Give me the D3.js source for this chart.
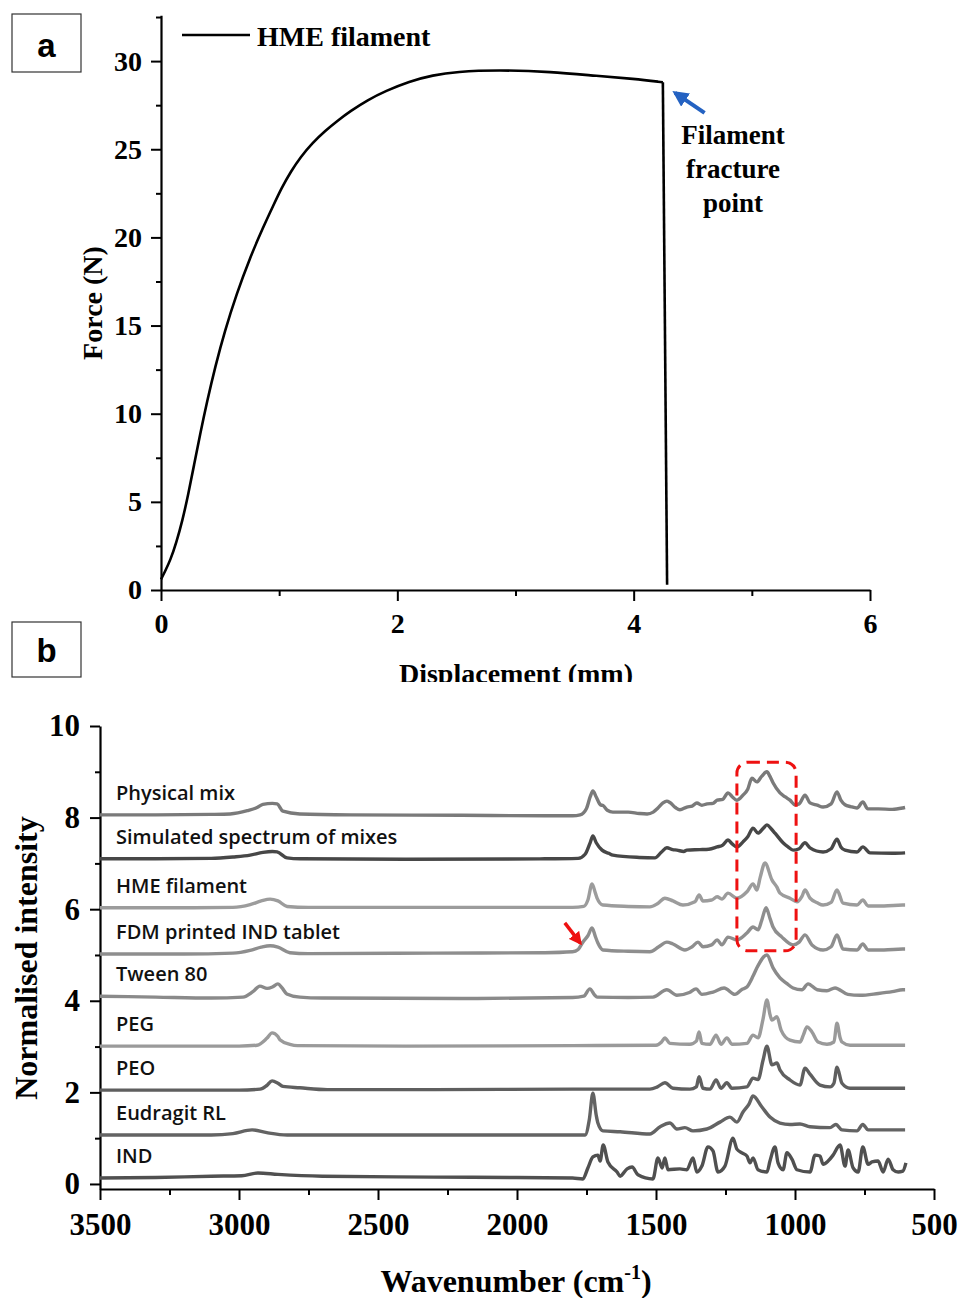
<!DOCTYPE html>
<html>
<head>
<meta charset="utf-8">
<script src="https://cdn.jsdelivr.net/npm/d3@7"></script>
<style>
  body { margin: 0; background: #fff; }
  svg { display: block; }
</style>
</head>
<body>
<svg id="chart" width="959" height="1298"></svg>
<script>
// ---- panel a: tensile test of the HME filament
const displacement = [0, 0.03, 0.08, 0.13, 0.18, 0.23, 0.28, 0.33, 0.39, 0.46, 0.54, 0.64, 0.75, 0.866, 0.95, 1.02, 1.1, 1.18, 1.28, 1.39, 1.5, 1.6, 1.75, 1.9, 2.1, 2.3, 2.5, 2.85, 3.3, 3.7, 4.0, 4.247, 4.283]
const force = [0.6, 1.0, 1.7, 2.7, 3.9, 5.4, 7.1, 8.8, 10.7, 12.7, 14.7, 16.8, 18.8, 20.6, 21.8, 22.8, 23.75, 24.55, 25.35, 26.05, 26.65, 27.15, 27.8, 28.3, 28.85, 29.2, 29.4, 29.5, 29.4, 29.15, 29.0, 28.8, 0.3]
const forceTicks = [0, 5, 10, 15, 20, 25, 30]
const forceMinor = [2.5, 7.5, 12.5, 17.5, 22.5, 27.5, 32.5]
const dispTicks = [0, 2, 4, 6]
const dispMinor = [1, 3, 5]

// ---- panel b: ATR-FTIR spectra, [wavenumber, normalised intensity]
const physicalMix = [[3500,8.06],[3300,8.06],[3100,8.07],[3032,8.08],[2970,8.15],[2935,8.22],[2914,8.29],[2880,8.31],[2863,8.30],[2842,8.14],[2781,8.08],[2600,8.06],[2200,8.05],[1900,8.04],[1800,8.04],[1773,8.06],[1750,8.2],[1737,8.45],[1727,8.58],[1715,8.45],[1700,8.28],[1690,8.26],[1675,8.16],[1655,8.12],[1600,8.12],[1560,8.09],[1532,8.08],[1510,8.12],[1493,8.21],[1475,8.32],[1461,8.36],[1450,8.33],[1430,8.22],[1414,8.17],[1389,8.23],[1370,8.25],[1353,8.32],[1335,8.27],[1316,8.30],[1295,8.31],[1280,8.38],[1260,8.40],[1241,8.54],[1225,8.45],[1209,8.38],[1187,8.49],[1170,8.62],[1155,8.86],[1137,8.78],[1120,8.90],[1101,9.0],[1090,8.90],[1079,8.76],[1054,8.54],[1035,8.45],[1018,8.38],[1000,8.28],[985,8.30],[964,8.49],[946,8.32],[920,8.27],[899,8.23],[870,8.30],[849,8.56],[835,8.38],[820,8.28],[800,8.24],[777,8.21],[756,8.34],[738,8.19],[700,8.19],[650,8.18],[612,8.21],[604,8.22]]
const simulated = [[3500,7.10],[3300,7.10],[3100,7.11],[3022,7.14],[2960,7.18],[2914,7.24],[2880,7.26],[2863,7.25],[2827,7.12],[2780,7.10],[2400,7.09],[1900,7.10],[1780,7.11],[1755,7.2],[1737,7.45],[1727,7.60],[1715,7.45],[1694,7.29],[1670,7.22],[1655,7.18],[1560,7.13],[1504,7.12],[1480,7.25],[1461,7.34],[1440,7.30],[1425,7.29],[1400,7.26],[1389,7.29],[1342,7.30],[1310,7.31],[1280,7.36],[1260,7.40],[1241,7.51],[1225,7.42],[1209,7.36],[1187,7.47],[1170,7.58],[1151,7.77],[1133,7.66],[1115,7.76],[1101,7.84],[1085,7.75],[1072,7.66],[1043,7.45],[1025,7.36],[1007,7.29],[985,7.32],[964,7.45],[946,7.34],[899,7.25],[870,7.32],[849,7.53],[835,7.36],[820,7.29],[777,7.25],[756,7.36],[730,7.23],[650,7.22],[604,7.23]]
const hmeFilament = [[3500,6.03],[3200,6.03],[3022,6.04],[2960,6.10],[2920,6.18],[2888,6.22],[2860,6.18],[2827,6.06],[2750,6.04],[2300,6.04],[1800,6.04],[1760,6.06],[1745,6.2],[1730,6.55],[1718,6.35],[1712,6.24],[1691,6.09],[1600,6.06],[1522,6.05],[1495,6.12],[1468,6.24],[1439,6.18],[1403,6.09],[1360,6.16],[1345,6.31],[1331,6.18],[1300,6.20],[1280,6.27],[1263,6.22],[1241,6.35],[1209,6.24],[1173,6.38],[1151,6.55],[1137,6.42],[1125,6.70],[1108,7.01],[1083,6.64],[1065,6.48],[1054,6.35],[1018,6.24],[993,6.16],[975,6.28],[964,6.42],[946,6.24],[920,6.14],[899,6.09],[870,6.15],[849,6.42],[827,6.13],[777,6.09],[756,6.20],[737,6.07],[680,6.07],[612,6.09],[604,6.09]]
const fdmTablet = [[3500,5.02],[3200,5.02],[3022,5.04],[2960,5.10],[2920,5.17],[2888,5.20],[2860,5.17],[2817,5.05],[2750,5.03],[2300,5.04],[1900,5.05],[1800,5.07],[1780,5.12],[1763,5.28],[1745,5.42],[1730,5.59],[1718,5.40],[1709,5.26],[1691,5.11],[1600,5.08],[1522,5.07],[1490,5.18],[1461,5.28],[1439,5.24],[1396,5.11],[1370,5.18],[1349,5.28],[1331,5.18],[1300,5.22],[1280,5.33],[1263,5.22],[1241,5.39],[1209,5.33],[1173,5.48],[1151,5.61],[1133,5.55],[1120,5.75],[1104,6.03],[1090,5.80],[1079,5.61],[1047,5.39],[1007,5.22],[985,5.28],[964,5.44],[939,5.22],[899,5.11],[870,5.18],[849,5.44],[827,5.13],[777,5.11],[756,5.24],[737,5.11],[680,5.11],[612,5.13],[604,5.13]]
const tween80 = [[3500,4.10],[3300,4.08],[3100,4.06],[2986,4.08],[2950,4.20],[2925,4.32],[2899,4.27],[2880,4.30],[2860,4.37],[2845,4.28],[2828,4.15],[2781,4.08],[2700,4.06],[2200,4.05],[1800,4.07],[1760,4.10],[1738,4.26],[1720,4.12],[1712,4.08],[1600,4.07],[1511,4.08],[1461,4.24],[1425,4.12],[1380,4.18],[1356,4.26],[1335,4.14],[1295,4.19],[1255,4.28],[1216,4.14],[1190,4.25],[1173,4.30],[1150,4.55],[1137,4.72],[1101,5.0],[1079,4.72],[1054,4.50],[1030,4.38],[1007,4.28],[975,4.24],[953,4.37],[920,4.24],[885,4.22],[856,4.28],[810,4.14],[766,4.12],[700,4.16],[650,4.20],[612,4.24],[604,4.24]]
const peg = [[3500,3.01],[3000,3.01],[2935,3.03],[2900,3.18],[2881,3.30],[2860,3.22],[2853,3.15],[2817,3.05],[2790,3.02],[2400,3.01],[1800,3.02],[1500,3.03],[1480,3.10],[1468,3.19],[1450,3.07],[1378,3.05],[1355,3.12],[1345,3.32],[1335,3.07],[1306,3.05],[1284,3.25],[1266,3.05],[1245,3.19],[1227,3.05],[1173,3.07],[1151,3.25],[1133,3.19],[1115,3.60],[1101,4.02],[1090,3.70],[1083,3.58],[1065,3.65],[1050,3.36],[1018,3.14],[982,3.10],[970,3.25],[957,3.43],[939,3.32],[917,3.10],[885,3.05],[860,3.10],[849,3.51],[838,3.20],[831,3.10],[802,3.03],[700,3.03],[604,3.03]]
const peo = [[3500,2.05],[3000,2.05],[2924,2.07],[2900,2.15],[2881,2.25],[2860,2.20],[2842,2.13],[2781,2.10],[2683,2.06],[2300,2.06],[1800,2.07],[1522,2.07],[1495,2.12],[1468,2.21],[1439,2.09],[1378,2.07],[1355,2.12],[1345,2.34],[1331,2.09],[1306,2.07],[1284,2.27],[1266,2.09],[1245,2.21],[1227,2.09],[1173,2.12],[1151,2.31],[1133,2.28],[1115,2.70],[1101,3.01],[1083,2.60],[1065,2.64],[1054,2.49],[1018,2.27],[982,2.16],[964,2.53],[946,2.40],[910,2.16],[874,2.12],[860,2.20],[849,2.55],[831,2.20],[802,2.09],[700,2.09],[604,2.09]]
const eudragitRL = [[3500,1.07],[3100,1.07],[3022,1.10],[2953,1.18],[2900,1.12],[2827,1.07],[2400,1.07],[1800,1.07],[1755,1.07],[1740,1.40],[1727,1.98],[1715,1.50],[1709,1.33],[1691,1.16],[1629,1.14],[1522,1.09],[1485,1.25],[1450,1.33],[1425,1.20],[1396,1.23],[1367,1.16],[1317,1.20],[1270,1.35],[1234,1.46],[1209,1.35],[1187,1.57],[1165,1.75],[1151,1.92],[1119,1.68],[1090,1.46],[1054,1.33],[1018,1.30],[982,1.31],[946,1.25],[874,1.23],[853,1.30],[831,1.18],[777,1.16],[756,1.30],[737,1.18],[650,1.18],[604,1.18]]
const ind = [[3500,0.13],[3300,0.14],[3100,0.17],[2990,0.18],[2932,0.24],[2860,0.21],[2700,0.17],[2300,0.15],[2000,0.14],[1800,0.13],[1763,0.11],[1745,0.35],[1727,0.59],[1709,0.63],[1701,0.50],[1690,0.85],[1673,0.48],[1640,0.26],[1629,0.17],[1604,0.33],[1586,0.37],[1565,0.20],[1511,0.11],[1493,0.57],[1478,0.35],[1468,0.57],[1457,0.31],[1414,0.33],[1389,0.31],[1367,0.57],[1353,0.26],[1335,0.39],[1313,0.81],[1295,0.72],[1277,0.26],[1252,0.39],[1223,1.0],[1209,0.76],[1191,0.68],[1173,0.61],[1162,0.46],[1151,0.57],[1133,0.31],[1101,0.26],[1090,0.50],[1072,0.81],[1061,0.46],[1043,0.31],[1029,0.68],[1011,0.54],[993,0.31],[946,0.26],[928,0.63],[910,0.61],[899,0.43],[881,0.50],[863,0.63],[838,0.85],[820,0.39],[809,0.74],[791,0.35],[773,0.26],[756,0.81],[737,0.43],[723,0.48],[701,0.50],[683,0.26],[665,0.54],[647,0.31],[629,0.26],[612,0.28],[601,0.46]]

const spectrumNames = ['Physical mix', 'Simulated spectrum of mixes', 'HME filament', 'FDM printed IND tablet', 'Tween 80', 'PEG', 'PEO', 'Eudragit RL', 'IND']
const spectra = [physicalMix, simulated, hmeFilament, fdmTablet, tween80, peg, peo, eudragitRL, ind]
const spectrumColors = ['#7a7a7a', '#474747', '#9c9c9c', '#8e8e8e', '#8a8a8a', '#9a9a9a', '#5f5f5f', '#636363', '#505050']
const intensityTicks = [0, 2, 4, 6, 8, 10]
const intensityMinor = [1, 3, 5, 7, 9]
const waveTicks = [3500, 3000, 2500, 2000, 1500, 1000, 500]
const waveMinor = [3250, 2750, 2250, 1750, 1250, 750]

const serif = '"Liberation Serif", "Times New Roman", serif'
const sans = '"Open Sans", "Noto Sans", sans-serif'
const svg = d3.select('#chart')
svg.append('rect').attr('width', 959).attr('height', 1298).attr('fill', '#fff')

function styleAxis(g, size) {
    g.select('.domain').attr('stroke', '#000').attr('stroke-width', 2.2)
    g.selectAll('.tick line').attr('stroke', '#000').attr('stroke-width', 2)
    g.selectAll('text').attr('font-family', serif).attr('font-weight', 'bold').attr('font-size', size).attr('fill', '#000')
}

function panelBox(x, y, w, h, label, baseline) {
    svg.append('rect').attr('x', x).attr('y', y).attr('width', w).attr('height', h)
        .attr('fill', 'none').attr('stroke', '#333').attr('stroke-width', 1.2)
    svg.append('text').attr('x', x + w / 2).attr('y', baseline).attr('text-anchor', 'middle')
        .attr('font-family', 'Liberation Sans, Arial, sans-serif').attr('font-weight', 'bold')
        .attr('font-size', 33).text(label)
}

// ================= panel a =================
const xa = d3.scaleLinear().domain([0, 6]).range([161, 870])
const ya = d3.scaleLinear().domain([0, 32.6]).range([590, 590 - 32.6 * 17.63])

const gxa = svg.append('g').attr('transform', 'translate(0,590)')
    .call(d3.axisBottom(xa).tickValues(dispTicks).tickSize(11).tickSizeOuter(0).tickFormat(d3.format('d')))
styleAxis(gxa, 28)
gxa.selectAll('text').attr('dy', null).attr('y', 43)
const gxam = svg.append('g').attr('transform', 'translate(0,590)')
    .call(d3.axisBottom(xa).tickValues(dispMinor).tickSize(6).tickFormat(''))
gxam.select('.domain').remove()
gxam.selectAll('line').attr('stroke', '#000').attr('stroke-width', 2)

const gya = svg.append('g').attr('transform', 'translate(161,0)')
    .call(d3.axisLeft(ya).tickValues(forceTicks).tickSize(10).tickPadding(9).tickSizeOuter(0))
styleAxis(gya, 28)
const gyam = svg.append('g').attr('transform', 'translate(161,0)')
    .call(d3.axisLeft(ya).tickValues(forceMinor).tickSize(5).tickFormat(''))
gyam.select('.domain').remove()
gyam.selectAll('line').attr('stroke', '#000').attr('stroke-width', 2)

// loading part smoothed, fracture drawn straight
const loadPts = d3.zip(displacement, force)
const last = loadPts.length - 1
const forceLine = d3.line().x(d => xa(d[0])).y(d => ya(d[1]))
svg.append('path')
    .datum(loadPts.slice(0, last))
    .attr('fill', 'none').attr('stroke', '#000').attr('stroke-width', 2.6)
    .attr('d', forceLine.curve(d3.curveBasis))
svg.append('path')
    .datum(loadPts.slice(last - 1))
    .attr('fill', 'none').attr('stroke', '#000').attr('stroke-width', 2.6)
    .attr('stroke-linejoin', 'round')
    .attr('d', forceLine.curve(d3.curveLinear))

// legend
svg.append('line').attr('x1', 182).attr('x2', 250).attr('y1', 35).attr('y2', 35)
    .attr('stroke', '#000').attr('stroke-width', 2.6)
svg.append('text').attr('x', 257).attr('y', 46)
    .attr('font-family', serif).attr('font-weight', 'bold').attr('font-size', 28).text('HME filament')

// fracture annotation
const defs = svg.append('defs')
defs.append('marker').attr('id', 'blueHead').attr('viewBox', '0 0 10 10').attr('refX', 8).attr('refY', 5)
    .attr('markerWidth', 16).attr('markerHeight', 16).attr('markerUnits', 'userSpaceOnUse').attr('orient', 'auto')
    .append('path').attr('d', 'M0,0 L10,5 L0,10 Z').attr('fill', '#2462c2')
defs.append('marker').attr('id', 'redHead').attr('viewBox', '0 0 10 10').attr('refX', 8).attr('refY', 5)
    .attr('markerWidth', 13).attr('markerHeight', 13).attr('markerUnits', 'userSpaceOnUse').attr('orient', 'auto')
    .append('path').attr('d', 'M0,0 L10,5 L0,10 Z').attr('fill', '#ee1111')

svg.append('line')
    .attr('x1', xa(4.60)).attr('y1', ya(27.06)).attr('x2', xa(4.35)).attr('y2', ya(28.2))
    .attr('stroke', '#2462c2').attr('stroke-width', 4).attr('marker-end', 'url(#blueHead)')
const note = svg.append('text').attr('text-anchor', 'middle')
    .attr('font-family', serif).attr('font-weight', 'bold').attr('font-size', 27)
;['Filament', 'fracture', 'point'].forEach((t, i) => {
    note.append('tspan').attr('x', xa(4.84)).attr('y', 144 + i * 34).text(t)
})

// axis titles
defs.append('clipPath').attr('id', 'clipA').append('rect').attr('x', 0).attr('y', 0).attr('width', 959).attr('height', 682)
svg.append('text').attr('x', 516).attr('y', 683).attr('text-anchor', 'middle').attr('clip-path', 'url(#clipA)')
    .attr('font-family', serif).attr('font-weight', 'bold').attr('font-size', 28).text('Displacement (mm)')
svg.append('text').attr('transform', 'translate(102,303) rotate(-90)').attr('text-anchor', 'middle')
    .attr('font-family', serif).attr('font-weight', 'bold').attr('font-size', 28).text('Force (N)')

panelBox(12, 14, 69, 58, 'a', 57)

// ================= panel b =================
const xb = d3.scaleLinear().domain([3500, 500]).range([100, 934])
const yb = d3.scaleLinear().domain([-0.11, 10]).range([1189, 726])

const gxb = svg.append('g').attr('transform', 'translate(0,1189)')
    .call(d3.axisBottom(xb).tickValues(waveTicks).tickSize(11).tickSizeOuter(0).tickFormat(d3.format('d')))
styleAxis(gxb, 31)
gxb.selectAll('text').attr('dy', null).attr('y', 46)
const gxbm = svg.append('g').attr('transform', 'translate(0,1189)')
    .call(d3.axisBottom(xb).tickValues(waveMinor).tickSize(6).tickFormat(''))
gxbm.select('.domain').remove()
gxbm.selectAll('line').attr('stroke', '#000').attr('stroke-width', 2)

const gyb = svg.append('g').attr('transform', 'translate(100,0)')
    .call(d3.axisLeft(yb).tickValues(intensityTicks).tickSize(10).tickPadding(10).tickSizeOuter(0))
styleAxis(gyb, 31)
const gybm = svg.append('g').attr('transform', 'translate(100,0)')
    .call(d3.axisLeft(yb).tickValues(intensityMinor).tickSize(5).tickFormat(''))
gybm.select('.domain').remove()
gybm.selectAll('line').attr('stroke', '#000').attr('stroke-width', 2)

const spec = d3.line().x(d => xb(d[0])).y(d => yb(d[1])).curve(d3.curveMonotoneX)
svg.append('g').selectAll('path').data(spectra).join('path')
    .attr('fill', 'none')
    .attr('stroke', (d, i) => spectrumColors[i])
    .attr('stroke-width', 3.4)
    .attr('stroke-linejoin', 'round')
    .attr('d', spec)

svg.append('g').selectAll('text').data(spectra).join('text')
    .attr('x', 116)
    .attr('y', d => yb(d[0][1]) - 15)
    .attr('font-family', sans).attr('font-weight', 600).attr('font-size', 20).attr('fill', '#111')
    .text((d, i) => spectrumNames[i])

// dashed box around the 1100 cm-1 region
svg.append('rect')
    .attr('x', xb(1209)).attr('y', yb(9.21))
    .attr('width', xb(996) - xb(1209)).attr('height', yb(5.09) - yb(9.21))
    .attr('rx', 11).attr('ry', 11)
    .attr('fill', 'none').attr('stroke', '#ee1111').attr('stroke-width', 3).attr('stroke-dasharray', '12,7')

// red arrow on the FDM shoulder
svg.append('line')
    .attr('x1', xb(1828)).attr('y1', yb(5.70)).attr('x2', xb(1772)).attr('y2', yb(5.26))
    .attr('stroke', '#ee1111').attr('stroke-width', 3.5).attr('marker-end', 'url(#redHead)')

// axis titles
const wt = svg.append('text').attr('x', 516).attr('y', 1292).attr('text-anchor', 'middle')
    .attr('font-family', serif).attr('font-weight', 'bold').attr('font-size', 32)
wt.append('tspan').text('Wavenumber (cm')
wt.append('tspan').attr('dy', -13).attr('font-size', 20).text('-1')
wt.append('tspan').attr('dy', 13).text(')')
svg.append('text').attr('transform', 'translate(37,958) rotate(-90)').attr('text-anchor', 'middle')
    .attr('font-family', serif).attr('font-weight', 'bold').attr('font-size', 32).text('Normalised intensity')

panelBox(12, 622, 69, 55, 'b', 662)
</script>
</body>
</html>
